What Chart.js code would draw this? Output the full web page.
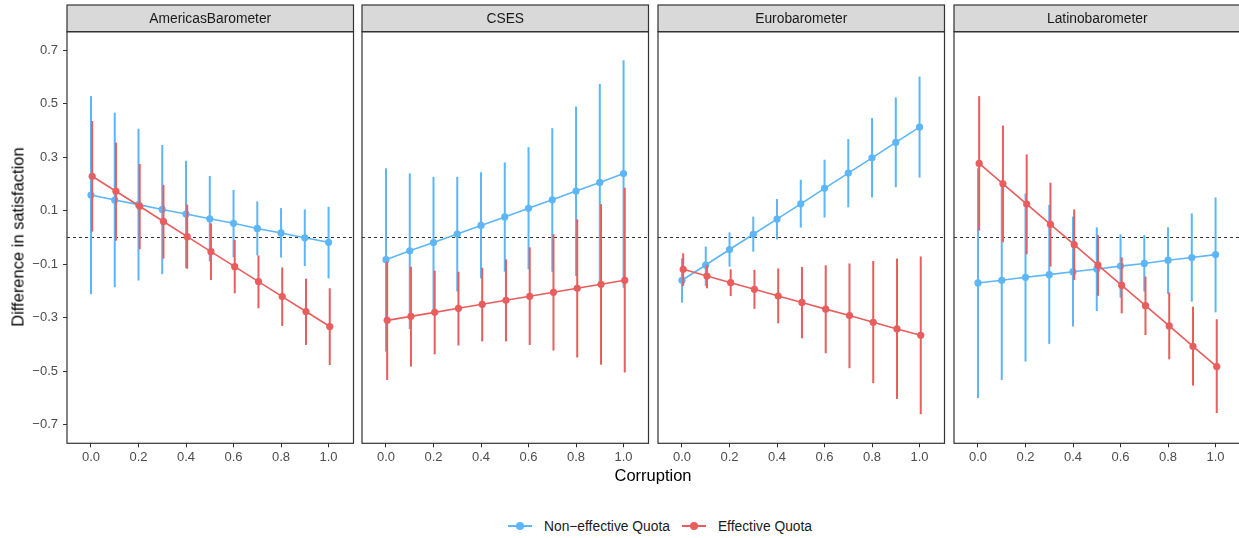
<!DOCTYPE html>
<html>
<head>
<meta charset="utf-8">
<script src="https://cdn.jsdelivr.net/npm/chart.js@4"></script>
<style>
  body { margin: 0; background: #fff; }
  #wrap { position: relative; width: 1239px; height: 538px; overflow: hidden; font-family: "Liberation Sans", Arial, sans-serif; }
  canvas { position: absolute; top: 0; }
  .ytitle { position: absolute; left: 18px; top: 237px; transform: translate(-50%, -50%) rotate(-90deg); font-size: 16.5px; color: #000; white-space: nowrap; }
  .xtitle { position: absolute; left: 653px; top: 475px; transform: translate(-50%, -50%); font-size: 16.5px; color: #000; white-space: nowrap; }
  .legend { position: absolute; top: 517px; left: 508px; display: flex; align-items: center; font-size: 13.8px; color: #1a1a1a; white-space: nowrap; }
  .key { position: relative; width: 24px; height: 18px; margin-right: 12px; }
  .key i { position: absolute; left: 0; right: 0; top: 8px; height: 2px; }
  .key b { position: absolute; left: 8px; top: 5px; width: 8px; height: 8px; border-radius: 50%; }
  .gap { width: 12px; }
</style>
</head>
<body>
<div id="wrap">
  <canvas id="p0" width="357" height="470"></canvas>
  <canvas id="p1" width="357" height="470"></canvas>
  <canvas id="p2" width="357" height="470"></canvas>
  <canvas id="p3" width="357" height="470"></canvas>
  <div class="ytitle">Difference in satisfaction</div>
  <div class="xtitle">Corruption</div>
  <div class="legend">
    <div class="key"><i style="background:#5cb6f7"></i><b style="background:#5cb6f7"></b></div>
    <span>Non−effective Quota</span>
    <div class="gap"></div>
    <div class="key"><i style="background:#e85d5d"></i><b style="background:#e85d5d"></b></div>
    <span>Effective Quota</span>
  </div>
</div>
<script>
// 横軸の値と目盛り
const corruption = [0.0, 0.1, 0.2, 0.3, 0.4, 0.5, 0.6, 0.7, 0.8, 0.9, 1.0];
const xTicks = [0.0, 0.2, 0.4, 0.6, 0.8, 1.0];
const yTicks = [-0.7, -0.5, -0.3, -0.1, 0.1, 0.3, 0.5, 0.7];
const panelNames = ["AmericasBarometer", "CSES", "Eurobarometer", "Latinobarometer"];
const seriesNames = ["Non−effective Quota", "Effective Quota"];

// AmericasBarometer
const amNonEff   = [0.159, 0.140, 0.123, 0.105, 0.088, 0.070, 0.053, 0.034, 0.017, -0.001, -0.018];
const amNonEffLo = [-0.212, -0.186, -0.161, -0.137, -0.114, -0.090, -0.074, -0.067, -0.075, -0.107, -0.153];
const amNonEffHi = [0.529, 0.467, 0.407, 0.346, 0.287, 0.230, 0.178, 0.135, 0.110, 0.105, 0.115];
const amEff      = [0.229, 0.173, 0.117, 0.060, 0.003, -0.053, -0.109, -0.165, -0.221, -0.277, -0.333];
const amEffLo    = [0.022, -0.012, -0.044, -0.079, -0.117, -0.159, -0.209, -0.265, -0.331, -0.402, -0.477];
const amEffHi    = [0.436, 0.355, 0.275, 0.197, 0.123, 0.053, -0.009, -0.067, -0.112, -0.154, -0.190];

// CSES
const csNonEff   = [-0.083, -0.050, -0.019, 0.013, 0.045, 0.077, 0.109, 0.141, 0.174, 0.206, 0.239];
const csNonEffLo = [-0.427, -0.343, -0.271, -0.202, -0.153, -0.128, -0.119, -0.128, -0.144, -0.165, -0.188];
const csNonEffHi = [0.259, 0.240, 0.227, 0.227, 0.244, 0.281, 0.338, 0.409, 0.490, 0.575, 0.663];
const csEff      = [-0.310, -0.295, -0.280, -0.265, -0.250, -0.235, -0.220, -0.205, -0.190, -0.175, -0.160];
const csEffLo    = [-0.533, -0.483, -0.437, -0.404, -0.389, -0.389, -0.402, -0.423, -0.449, -0.476, -0.505];
const csEffHi    = [-0.090, -0.109, -0.124, -0.128, -0.113, -0.082, -0.037, 0.012, 0.068, 0.125, 0.186];

// Eurobarometer
const euNonEff   = [-0.160, -0.103, -0.045, 0.012, 0.069, 0.126, 0.184, 0.241, 0.298, 0.356, 0.413];
const euNonEffLo = [-0.244, -0.181, -0.109, -0.053, -0.007, 0.037, 0.075, 0.113, 0.150, 0.188, 0.224];
const euNonEffHi = [-0.078, -0.034, 0.019, 0.078, 0.144, 0.216, 0.291, 0.368, 0.447, 0.524, 0.602];
const euEff      = [-0.119, -0.144, -0.169, -0.194, -0.219, -0.243, -0.268, -0.292, -0.317, -0.342, -0.366];
const euEffLo    = [-0.181, -0.190, -0.219, -0.267, -0.321, -0.377, -0.433, -0.489, -0.545, -0.604, -0.661];
const euEffHi    = [-0.059, -0.103, -0.119, -0.121, -0.116, -0.110, -0.104, -0.097, -0.088, -0.079, -0.071];

// Latinobarometer
const laNonEff   = [-0.170, -0.160, -0.149, -0.139, -0.128, -0.118, -0.107, -0.097, -0.085, -0.075, -0.064];
const laNonEffLo = [-0.601, -0.533, -0.464, -0.398, -0.333, -0.275, -0.225, -0.202, -0.211, -0.240, -0.280];
const laNonEffHi = [0.259, 0.215, 0.165, 0.122, 0.078, 0.038, 0.012, 0.009, 0.038, 0.090, 0.150];
const laEff      = [0.277, 0.201, 0.125, 0.049, -0.027, -0.103, -0.179, -0.255, -0.331, -0.407, -0.483];
const laEffLo    = [0.026, -0.018, -0.063, -0.109, -0.159, -0.218, -0.284, -0.365, -0.456, -0.554, -0.657];
const laEffHi    = [0.529, 0.419, 0.311, 0.205, 0.105, 0.009, -0.074, -0.146, -0.206, -0.259, -0.306];

const panelData = [
  [amNonEff, amNonEffLo, amNonEffHi, amEff, amEffLo, amEffHi],
  [csNonEff, csNonEffLo, csNonEffHi, csEff, csEffLo, csEffHi],
  [euNonEff, euNonEffLo, euNonEffHi, euEff, euEffLo, euEffHi],
  [laNonEff, laNonEffLo, laNonEffHi, laEff, laEffLo, laEffHi],
];

const BLUE = "#5cb6f7";
const RED = "#e85d5d";
const DARK = "#333333";
const FONT = '"Liberation Sans", Arial, sans-serif';
const canvasLeft = [1, 296, 592, 888];
const dodge = 0.005; // position_dodge 分のずれ

// エラーバー (データセット描画の直前に描く)
const errorBars = {
  id: "errorBars",
  beforeDatasetDraw(chart, args) {
    const ds = chart.data.datasets[args.index];
    const { x, y } = chart.scales;
    const ctx = chart.ctx;
    ctx.save();
    ctx.strokeStyle = ds.borderColor;
    ctx.lineWidth = 2;
    ds.data.forEach((p, i) => {
      const px = x.getPixelForValue(p.x);
      ctx.beginPath();
      ctx.moveTo(px, y.getPixelForValue(ds.lower[i]));
      ctx.lineTo(px, y.getPixelForValue(ds.upper[i]));
      ctx.stroke();
    });
    ctx.restore();
  },
};

// 0 の破線
const zeroLine = {
  id: "zeroLine",
  beforeDatasetsDraw(chart) {
    const { ctx, chartArea } = chart;
    const py = chart.scales.y.getPixelForValue(0);
    ctx.save();
    ctx.strokeStyle = DARK;
    ctx.lineWidth = 1;
    ctx.setLineDash([3, 3]);
    ctx.beginPath();
    ctx.moveTo(chartArea.left, py);
    ctx.lineTo(chartArea.right, py);
    ctx.stroke();
    ctx.restore();
  },
};

// 枠線とストリップ
const panelFrame = {
  id: "panelFrame",
  afterDraw(chart, args, opts) {
    const { ctx, chartArea } = chart;
    const w = chartArea.right - chartArea.left;
    const stripH = 26.7;
    ctx.save();
    ctx.fillStyle = "#d9d9d9";
    ctx.fillRect(chartArea.left, chartArea.top - stripH, w, stripH);
    ctx.strokeStyle = DARK;
    ctx.lineWidth = 1.2;
    ctx.strokeRect(chartArea.left, chartArea.top - stripH, w, stripH);
    ctx.strokeRect(chartArea.left, chartArea.top, w, chartArea.bottom - chartArea.top);
    ctx.fillStyle = "#1a1a1a";
    ctx.font = "13.8px " + FONT;
    ctx.textAlign = "center";
    ctx.textBaseline = "middle";
    ctx.fillText(opts.label, chartArea.left + w / 2, chartArea.top - stripH / 2 + 0.5);
    ctx.restore();
  },
};

function fmt(v) {
  const s = Math.abs(v).toFixed(1);
  return v < -1e-9 ? "\u2212" + s : s;
}

function makeSeries(vals, lo, hi, name, color, shift, order) {
  return {
    label: name,
    data: corruption.map((c, i) => ({ x: c + shift, y: vals[i] })),
    lower: lo,
    upper: hi,
    borderColor: color,
    backgroundColor: color,
    borderWidth: 1.6,
    pointRadius: 3.6,
    pointBorderWidth: 0,
    pointBackgroundColor: color,
    tension: 0,
    order: order,
  };
}

panelNames.forEach((name, k) => {
  const cv = document.getElementById("p" + k);
  cv.style.left = canvasLeft[k] + "px";
  const [ne, neLo, neHi, ef, efLo, efHi] = panelData[k];
  const first = k === 0;
  new Chart(cv.getContext("2d"), {
    type: "line",
    data: {
      datasets: [
        makeSeries(ef, efLo, efHi, seriesNames[1], RED, dodge, 1),
        makeSeries(ne, neLo, neHi, seriesNames[0], BLUE, 0, 2),
      ],
    },
    options: {
      responsive: false,
      animation: false,
      events: [],
      layout: {
        padding: { left: 0, right: 4.5, top: 31.7, bottom: 6.7 },
      },
      scales: {
        x: {
          type: "linear",
          min: -0.101,
          max: 1.105,
          afterBuildTicks: (s) => { s.ticks = xTicks.map((v) => ({ value: v })); },
          afterFit: (s) => { s.height = 20; },
          ticks: {
            callback: (v) => fmt(v),
            color: "#4d4d4d",
            font: { family: FONT, size: 13 },
            padding: 2,
            maxRotation: 0,
            autoSkip: false,
          },
          grid: { drawOnChartArea: false, tickLength: 4, color: DARK, lineWidth: 1 },
          border: { display: false },
        },
        y: {
          display: true,
          min: -0.77,
          max: 0.77,
          afterBuildTicks: (s) => { s.ticks = yTicks.map((v) => ({ value: v })); },
          afterFit: (s) => { s.width = 66; },
          ticks: {
            display: first,
            callback: (v) => fmt(v),
            color: "#4d4d4d",
            font: { family: FONT, size: 13 },
            padding: 5,
            autoSkip: false,
          },
          grid: { display: first, drawOnChartArea: false, tickLength: 4, color: DARK, lineWidth: 1 },
          border: { display: false },
        },
      },
      plugins: {
        legend: { display: false },
        tooltip: { enabled: false },
        panelFrame: { label: name },
      },
    },
    plugins: [zeroLine, errorBars, panelFrame],
  });
});
</script>
</body>
</html>
